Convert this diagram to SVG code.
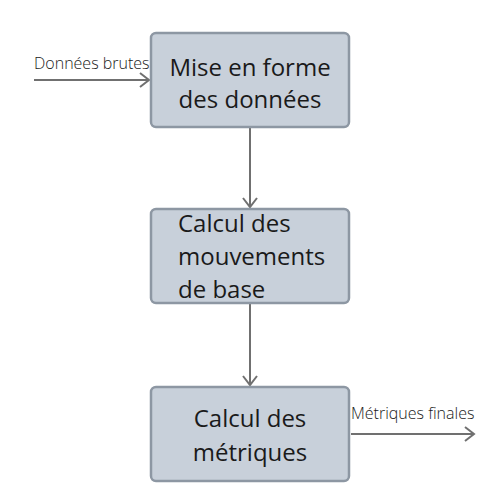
<svg xmlns="http://www.w3.org/2000/svg" width="500" height="500" viewBox="0 0 500 500">
<defs>
<style>
.box{fill:#c8d0da;stroke:#8d97a3;stroke-width:2.5}
.t{font-family:"Open Sans",sans-serif;font-size:24px;fill:#1a1a1a}
.lbl{font-family:"Open Sans",sans-serif;font-size:16px;font-weight:300;fill:#1a1a1a}
.edge{stroke:#707070;stroke-width:2;fill:none}
</style>
<marker id="ah" markerWidth="12" markerHeight="16" refX="10" refY="8" orient="auto" markerUnits="userSpaceOnUse">
<path d="M1,1 L10,8 L1,15" fill="none" stroke="#707070" stroke-width="2"/>
</marker>
</defs>
<rect width="500" height="500" fill="#ffffff"/>
<g id="connectors">
<line class="edge" x1="34" y1="80" x2="149" y2="80" marker-end="url(#ah)"/>
<line class="edge" x1="250" y1="128" x2="250" y2="207" marker-end="url(#ah)"/>
<line class="edge" x1="250" y1="304" x2="250" y2="385" marker-end="url(#ah)"/>
<line class="edge" x1="351" y1="434" x2="474" y2="434" marker-end="url(#ah)"/>
<text class="lbl" x="34" y="69">Données brutes</text>
<text class="lbl" x="351" y="419">Métriques finales</text>
</g>
<g id="n1">
<rect class="box" x="151" y="33" width="198" height="94" rx="5"/>
<text class="t" x="250" y="76" text-anchor="middle">Mise en forme</text>
<text class="t" x="250" y="108" text-anchor="middle">des données</text>
</g>
<g id="n2">
<rect class="box" x="151" y="209" width="198" height="94" rx="5"/>
<text class="t" x="178" y="232">Calcul des</text>
<text class="t" x="178" y="265">mouvements</text>
<text class="t" x="178" y="298">de base</text>
</g>
<g id="n3">
<rect class="box" x="151" y="387" width="198" height="94" rx="5"/>
<text class="t" x="250" y="427" text-anchor="middle">Calcul des</text>
<text class="t" x="250" y="461" text-anchor="middle">métriques</text>
</g>
</svg>
